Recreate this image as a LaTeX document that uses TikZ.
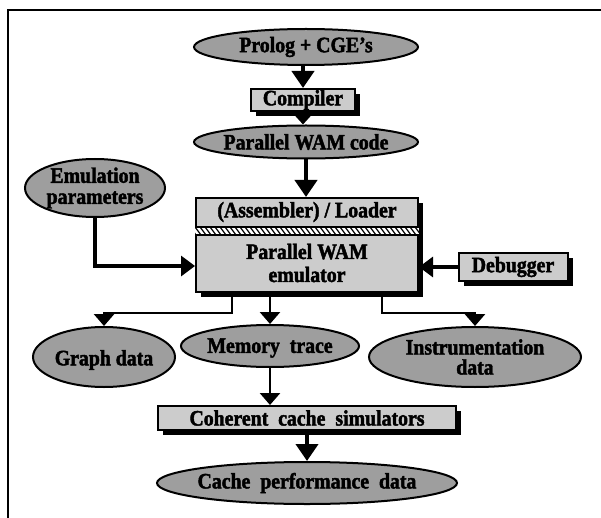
\documentclass[tikz,border=0pt]{standalone}
\usepackage{fontspec}
\setmainfont{Liberation Serif}[FakeStretch=0.9, BoldFeatures={FakeBold=2}]
\usetikzlibrary{arrows.meta,shapes.geometric,shadows,calc}

\begin{document}
\begin{tikzpicture}[x=1pt,y=-1pt,
  txt/.style={font=\bfseries\fontsize{22}{22}\selectfont},
  lbl/.style={txt, align=center, inner sep=0pt},
  oval/.style={ellipse, draw, line width=2pt, fill=black!38, inner sep=0pt},
  boxnode/.style={rectangle, draw, line width=2pt, fill=black!20, inner sep=0pt, txt,
    drop shadow={shadow xshift=5pt, shadow yshift=-5pt, opacity=1, fill=black}},
  flow/.style={line width=4pt, -{Triangle[width=22pt,length=17pt]}},
  shortflow/.style={line width=4pt, -{Triangle[width=21pt,length=12pt]}},
  side/.style={line width=3.2pt, -{Triangle[width=20pt,length=14pt]}},
  branch/.style={line width=2.8pt, -{Triangle[width=20pt,length=12pt]}}]

\useasboundingbox (0,0) rectangle (601,518);

% outer frame (top and left edges)
\draw[line width=2.6pt] (8,518) -- (8,10) -- (601,10);

% top chain
\node[oval, minimum width=224pt, minimum height=36pt,
  label={[lbl]center:Prolog + CGE's}] (prolog) at (306,47) {};
\node[boxnode, minimum width=104pt, minimum height=22pt] (compiler) at (303,100) {Compiler};
\node[oval, minimum width=224pt, minimum height=33pt,
  label={[lbl]center:Parallel WAM code}] (pwam) at (306,142) {};

% assembler / emulator block
\node[boxnode, minimum width=222pt, minimum height=94pt] (main) at (307,245) {};
\coordinate (bandT) at ($(main.north west)+(0,30)$);
\coordinate (bandB) at ($(main.north west)+(0,38)$);
\begin{scope}
  \clip (bandT) rectangle (bandB -| main.east);
  \fill[white] (bandT) rectangle (bandB -| main.east);
  \foreach \i in {-10,-5,...,230}
    \draw[line width=1.2pt] ($(bandT)+(\i,0)$) -- ++(6,8);
\end{scope}
\draw[line width=1.8pt] (bandT) -- (bandT -| main.east);
\draw[line width=1.8pt] (bandB) -- (bandB -| main.east);
\node[lbl] (loader) at ($(main.north)+(0,15)$) {(Assembler) / Loader};
\node[lbl, font=\bfseries\fontsize{22}{23}\selectfont] (emu) at ($(main.south)+(0,-30)$) {Parallel WAM\\emulator};

% side inputs
\node[oval, minimum width=140pt, minimum height=58pt,
  label={[lbl, font=\bfseries\fontsize{22}{21}\selectfont]center:{Emulation\\parameters}}] (emul) at (95,188) {};
\node[boxnode, minimum width=109pt, minimum height=28pt] (dbg) at (513,267) {Debugger};

% outputs
\node[oval, minimum width=142pt, minimum height=60pt,
  label={[lbl, yshift=-3pt]center:Graph data}] (graph) at (104,357) {};
\node[oval, minimum width=178pt, minimum height=42pt,
  label={[lbl, yshift=-2pt]center:Memory\ \ trace}] (mem) at (270,346) {};
\node[oval, minimum width=212pt, minimum height=60pt,
  label={[lbl, font=\bfseries\fontsize{22}{20}\selectfont]center:{Instrumentation\\data}}] (instr) at (475,357) {};

\node[boxnode, minimum width=298pt, minimum height=24pt] (cache) at (307,418)
  {Coherent\ \ cache\ \ simulators};
\node[oval, minimum width=300pt, minimum height=42pt,
  label={[lbl]center:Cache\ \ performance\ \ data}] (perf) at (307,483) {};

% connectors
\draw[flow] (prolog.south -| compiler.north) -- (compiler.north);
\draw[shortflow] (compiler.south) -- (compiler.south |- pwam.north);
\draw[flow] (pwam.south) -- (pwam.south |- main.north);

\coordinate (inL) at ($(main.west)+(0,21)$);
\draw[side] (emul.south) |- (inL);
\draw[side] (dbg.west) -- (dbg.west -| main.east);

\coordinate (outL) at ($(main.south west)+(37,0)$);
\coordinate (outR) at ($(main.south west)+(187,0)$);
\coordinate (kneeL) at ($(graph.north)+(0,-13)$);
\coordinate (kneeR) at ($(instr.north)+(0,-13)$);
\draw[branch] (outL) |- (kneeL) -- (graph.north);
\draw[branch] (outR) |- (kneeR) -- (instr.north);
\draw[branch] (main.south -| mem.north) -- (mem.north);
\draw[branch] (mem.south) -- (mem.south |- cache.north);
\draw[flow] (cache.south -| perf.north) -- (perf.north);
\end{tikzpicture}
\end{document}
